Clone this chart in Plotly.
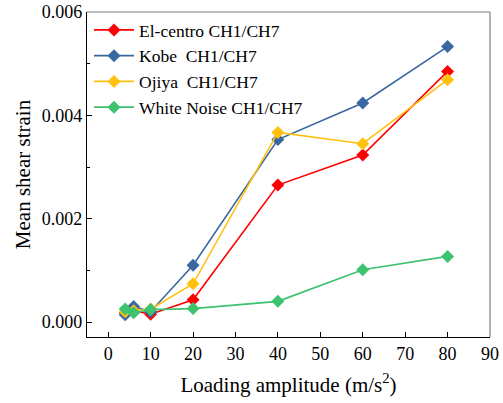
import plotly.graph_objects as go

amplitude = [4, 6, 10, 20, 40, 60, 80]
el_centro = [0.00018, 0.00022, 0.00015, 0.00043, 0.00265, 0.00323, 0.00485]
kobe = [0.00014, 0.00030, 0.00020, 0.00110, 0.00353, 0.00424, 0.00533]
ojiya = [0.00020, 0.00022, 0.00025, 0.00074, 0.00367, 0.00345, 0.00469]
white_noise = [0.00025, 0.00018, 0.00024, 0.00026, 0.00040, 0.00101, 0.00127]

series = [
    ("El-centro CH1/CH7", el_centro, "#FF0000"),
    ("Kobe  CH1/CH7", kobe, "#3A67A0"),
    ("Ojiya  CH1/CH7", ojiya, "#FFC10E"),
    ("White Noise CH1/CH7", white_noise, "#3DC26E"),
]

fig = go.Figure()
for name, vals, col in series:
    fig.add_trace(go.Scatter(
        x=amplitude, y=vals, name=name, mode="lines+markers",
        line=dict(color=col, width=1.6),
        marker=dict(symbol="diamond", size=10, color=col),
    ))

font = "Liberation Serif"
fig.update_layout(
    width=503, height=403,
    margin=dict(l=87, r=13, t=12, b=66, autoexpand=False),
    paper_bgcolor="white", plot_bgcolor="white",
    font=dict(family=font, size=18, color="black"),
    showlegend=True,
    legend=dict(x=0.005, y=1.0, xanchor="left", yanchor="top",
                bgcolor="rgba(0,0,0,0)", font=dict(size=17.5, family=font),
                tracegroupgap=0, itemwidth=40),
    xaxis=dict(range=[-5, 90], tickvals=list(range(0, 91, 10)),
               ticks="inside", ticklen=5, tickcolor="black", automargin=False,
               showline=True, linecolor="black", linewidth=1.2,
               showgrid=False, zeroline=False,
               title=dict(text="Loading amplitude (m/s<sup>2</sup>)", font=dict(size=21, family=font), standoff=14),
               tickfont=dict(size=18, family=font)),
    yaxis=dict(range=[-0.00029, 0.006], tickvals=[0, 0.002, 0.004, 0.006],
               ticktext=["0.000", "0.002", "0.004", "0.006"],
               ticks="inside", ticklen=5, tickcolor="black", automargin=False,
               minor=dict(tickvals=[0.001, 0.003, 0.005], ticks="inside", ticklen=3, tickcolor="black"),
               showline=True, linecolor="black", linewidth=1.2,
               showgrid=False, zeroline=False,
               title=dict(text="Mean shear strain", font=dict(size=21, family=font), standoff=5),
               tickfont=dict(size=18, family=font)),
    shapes=[
        dict(type="line", xref="paper", yref="paper", x0=0, x1=1, y0=1, y1=1,
             line=dict(color="#7f7f7f", width=1.2)),
        dict(type="line", xref="paper", yref="paper", x0=1, x1=1, y0=0, y1=1,
             line=dict(color="#7f7f7f", width=1.2)),
    ],
)

fig.write_html("out.html")
